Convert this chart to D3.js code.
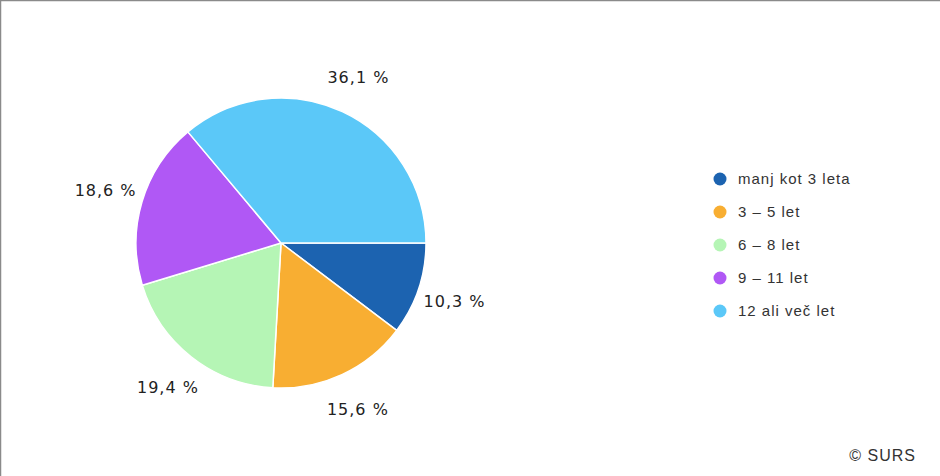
<!DOCTYPE html>
<html>
<head>
<meta charset="utf-8">
<script src="https://cdn.jsdelivr.net/npm/d3@7"></script>
<style>
  body { margin: 0; background: #fff; }
  svg { display: block; }
</style>
</head>
<body>
<svg id="pie-chart" width="940" height="476"></svg>
<script>
let categories = ["manj kot 3 leta", "3 – 5 let", "6 – 8 let", "9 – 11 let", "12 ali več let"];
let shares = [10.3, 15.6, 19.4, 18.6, 36.1];
let colors = ["#1c63b0", "#f8ae32", "#b5f5b5", "#b058f5", "#5bc8f8"];

document.addEventListener("DOMContentLoaded", (event) => {
  create_pie_chart();
});

function create_pie_chart() {
  let svg = d3.select("#pie-chart");
  let width = +svg.attr("width");
  let height = +svg.attr("height");

  // frame on the top and left edges
  svg.append("line").attr("x1", 0.5).attr("y1", 0).attr("x2", 0.5).attr("y2", height)
    .attr("stroke", "#8a8a8a").attr("stroke-width", 1.5);
  svg.append("line").attr("x1", 0).attr("y1", 0.5).attr("x2", width).attr("y2", 0.5)
    .attr("stroke", "#8a8a8a").attr("stroke-width", 1.5);

  let cx = 281, cy = 243, radius = 145;
  let z = d3.scaleOrdinal().domain(categories).range(colors);

  let data = categories.map((c, i) => ({ key: c, value: shares[i] }));

  // start at 3 o'clock and go clockwise
  let pie = d3.pie()
    .sort(null)
    .value((d) => d.value)
    .startAngle(Math.PI / 2)
    .endAngle(Math.PI / 2 + 2 * Math.PI);

  let arc = d3.arc().innerRadius(0).outerRadius(radius);
  let labelArc = d3.arc().innerRadius(183).outerRadius(183);

  let g = svg.append("g").attr("transform", "translate(" + cx + "," + cy + ")");
  let arcs = pie(data);

  g.selectAll("path")
    .data(arcs)
    .enter()
    .append("path")
    .attr("d", arc)
    .attr("fill", (d) => z(d.data.key))
    .attr("stroke", "#ffffff")
    .attr("stroke-width", 1.5)
    .attr("stroke-linejoin", "round");

  g.selectAll(".pie-label")
    .data(arcs)
    .enter()
    .append("text")
    .attr("class", "pie-label")
    .attr("transform", (d) => "translate(" + labelArc.centroid(d) + ")")
    .attr("dy", "0.35em")
    .style("text-anchor", "middle")
    .style("font-family", "'DejaVu Sans', Verdana, sans-serif")
    .style("font-size", "16px")
    .style("letter-spacing", "1px")
    .style("fill", "#222")
    .text((d) => d.data.value.toFixed(1).replace(".", ",") + " %");

  // legend
  const legend = svg.append("g")
    .attr("class", "legend")
    .attr("transform", "translate(720, 179)");

  const legendKeys = legend.selectAll(".legend-key")
    .data(categories)
    .enter()
    .append("g")
    .attr("class", "legend-key")
    .attr("transform", (d, i) => "translate(0, " + i * 33 + ")");

  legendKeys.append("circle")
    .attr("r", 6.5)
    .attr("fill", (d) => z(d));

  legendKeys.append("text")
    .attr("x", 18)
    .attr("dy", "0.35em")
    .style("font-family", "'Liberation Sans', Arial, sans-serif")
    .style("font-size", "15px")
    .style("letter-spacing", "1px")
    .style("fill", "#333")
    .text((d) => d);

  // credit
  svg.append("text")
    .attr("x", 916)
    .attr("y", 461)
    .style("text-anchor", "end")
    .style("font-family", "'Liberation Sans', Arial, sans-serif")
    .style("font-size", "16px")
    .style("letter-spacing", "1px")
    .style("fill", "#333")
    .text("© SURS");
}
</script>
</body>
</html>
